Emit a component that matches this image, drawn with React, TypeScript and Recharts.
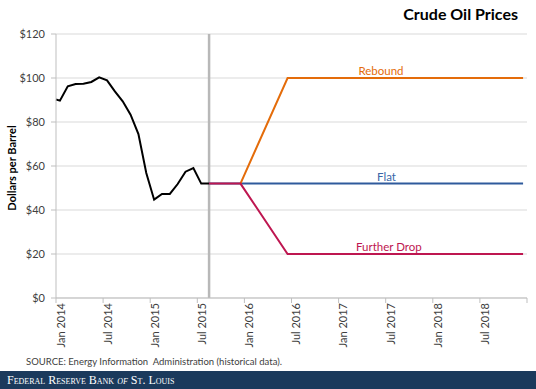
import React from 'react';
import {
  LineChart,
  Line,
  XAxis,
  YAxis,
  CartesianGrid,
  ReferenceLine,
  ReferenceDot,
} from 'recharts';

// months counted from Jan 2014 (0 = start of Jan 2014, 0.5 = mid Jan 2014)
const histMonths = [0, 0.5, 1.5, 2.5, 3.5, 4.5, 5.5, 6.5, 7.5, 8.5, 9.5, 10.5, 11.5, 12.5, 13.5, 14.5, 15.5, 16.5, 17.5, 18.5, 19.5];
const histPrices = [90.2, 89.7, 96.2, 97.3, 97.4, 98.2, 100.3, 98.9, 93.9, 89.4, 83.3, 74.5, 56.8, 44.7, 47.3, 47.3, 51.8, 57.4, 59.1, 52, 52];

const scenarioMonths = [19.5, 23.5, 29.5, 59.5];
const reboundPrices = [null, 52, 100, 100];
const flatPrices = [52, 52, 52, 52];
const dropPrices = [52, 52, 20, 20];

const forecastStart = 19.5;

const xTicks = [0, 6, 12, 18, 24, 30, 36, 42, 48, 54, 60];
const xTickLabels = ['Jan 2014', 'Jul 2014', 'Jan 2015', 'Jul 2015', 'Jan 2016', 'Jul 2016', 'Jan 2017', 'Jul 2017', 'Jan 2018', 'Jul 2018', ''];
const yTicks = [0, 20, 40, 60, 80, 100, 120];

const FONT = 'Lato, "Open Sans", sans-serif';
const AXIS_GRAY = '#BFBFBF';
const TEXT = '#404040';

const histData = histMonths.map((m, i) => ({ m, price: histPrices[i] }));
const reboundData = scenarioMonths
  .map((m, i) => ({ m, price: reboundPrices[i] }))
  .filter((d) => d.price !== null);
const flatData = scenarioMonths.map((m, i) => ({ m, price: flatPrices[i] }));
const dropData = scenarioMonths.map((m, i) => ({ m, price: dropPrices[i] }));

const XTick = ({ x, y, index }: any) => {
  const label = xTickLabels[index];
  if (!label) return null;
  return (
    <text
      transform={`translate(${x + 5},${y - 2}) rotate(-90)`}
      textAnchor="end"
      dy="0.35em"
      fontSize={11}
      fontFamily={FONT}
      fill={TEXT}
    >
      {label}
    </text>
  );
};

const App: React.FC = () => {
  return (
    <div
      style={{
        position: 'absolute',
        left: 0,
        top: 0,
        width: 536,
        height: 389,
        background: '#fff',
        fontFamily: FONT,
        overflow: 'hidden',
      }}
    >
      <LineChart
        width={536}
        height={389}
        margin={{ top: 34, right: 9, left: 0, bottom: 0 }}
      >
        <CartesianGrid vertical={false} stroke="#D9D9D9" />
        <XAxis
          type="number"
          dataKey="m"
          domain={[0, 60]}
          ticks={xTicks}
          interval={0}
          height={91}
          tick={<XTick />}
          tickSize={5}
          axisLine={{ stroke: AXIS_GRAY }}
          tickLine={{ stroke: AXIS_GRAY }}
        />
        <YAxis
          type="number"
          domain={[0, 120]}
          ticks={yTicks}
          width={56}
          tickSize={5}
          tickMargin={6}
          tickFormatter={(v) => `$${v}`}
          tick={{ fill: TEXT, fontSize: 11, fontFamily: FONT }}
          axisLine={{ stroke: AXIS_GRAY }}
          tickLine={{ stroke: AXIS_GRAY }}
        />
        <ReferenceLine x={forecastStart} stroke="#B8B8B8" strokeWidth={2.5} />
        <Line data={histData} dataKey="price" type="linear" stroke="#000" strokeWidth={2} dot={false} isAnimationActive={false} />
        <Line data={flatData} dataKey="price" type="linear" stroke="#2F5A9C" strokeWidth={2} dot={false} isAnimationActive={false} />
        <Line data={reboundData} dataKey="price" type="linear" stroke="#E46C0A" strokeWidth={2} dot={false} isAnimationActive={false} />
        <Line data={dropData} dataKey="price" type="linear" stroke="#BE1650" strokeWidth={2} dot={false} isAnimationActive={false} />
        <ReferenceDot x={41.4} y={100} r={0} stroke="none"
          label={{ value: 'Rebound', position: 'top', offset: 3, fill: '#E46C0A', fontSize: 11.5, fontFamily: FONT }} />
        <ReferenceDot x={42.1} y={52} r={0} stroke="none"
          label={{ value: 'Flat', position: 'top', offset: 3, fill: '#3A67A8', fontSize: 11.5, fontFamily: FONT }} />
        <ReferenceDot x={42.4} y={20} r={0} stroke="none"
          label={{ value: 'Further Drop', position: 'top', offset: 3, fill: '#BE1650', fontSize: 11.5, fontFamily: FONT }} />
      </LineChart>

      <div
        style={{
          position: 'absolute',
          right: 18,
          top: 4,
          fontSize: 16,
          fontWeight: 700,
          color: '#000',
        }}
      >
        Crude Oil Prices
      </div>

      <div
        style={{
          position: 'absolute',
          left: 11,
          top: 168,
          transform: 'translate(-50%, -50%) rotate(-90deg)',
          fontSize: 11,
          fontWeight: 700,
          color: '#000',
          whiteSpace: 'nowrap',
        }}
      >
        Dollars per Barrel
      </div>

      <div
        style={{
          position: 'absolute',
          left: 26,
          top: 356,
          fontSize: 9.5,
          color: TEXT,
          whiteSpace: 'pre',
        }}
      >
        SOURCE: Energy Information  Administration (historical data).
      </div>

      <div
        style={{
          position: 'absolute',
          left: 0,
          top: 371,
          width: 536,
          height: 18,
          background: '#1B3A5C',
          color: '#fff',
          fontFamily: '"Liberation Serif", "DejaVu Serif", serif',
          fontVariant: 'small-caps',
          fontSize: 12,
          lineHeight: '18px',
          paddingLeft: 7,
          boxSizing: 'border-box',
          whiteSpace: 'nowrap',
        }}
      >
        Federal Reserve Bank <i>of</i> St. Louis
      </div>
    </div>
  );
};

export default App;
